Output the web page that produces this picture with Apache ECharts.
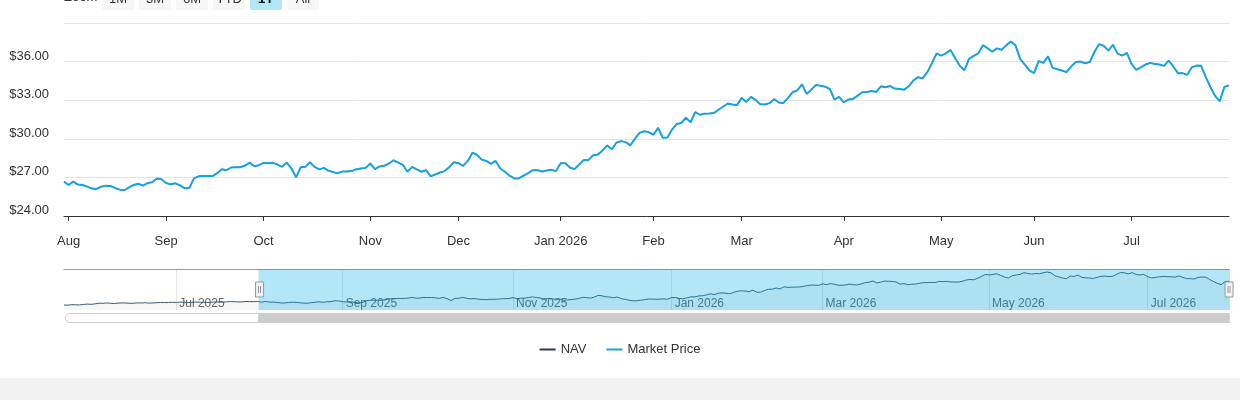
<!DOCTYPE html>
<html>
<head>
<meta charset="utf-8">
<script src="https://cdn.jsdelivr.net/npm/echarts@6/dist/echarts.min.js"></script>
<style>
  body { margin: 0; background: #f2f2f2; }
  #main { width: 1240px; height: 378px; background: #fff; }
</style>
</head>
<body>
<div id="main"></div>
<script>
// trading calendar: weekdays between these dates, minus market holidays
const firstDay = "2025-05-19";
const lastDay = "2026-07-31";
const holidays = [
  "2025-05-26", "2025-06-19", "2025-07-04", "2025-09-01", "2025-11-27",
  "2025-12-25", "2026-01-01", "2026-01-19", "2026-02-16", "2026-04-03",
  "2026-05-25", "2026-06-19", "2026-07-03"
];
const monthNames = ["Jan", "Feb", "Mar", "Apr", "May", "Jun", "Jul", "Aug", "Sep", "Oct", "Nov", "Dec"];
const zoomButtons = ["1M", "3M", "6M", "YTD", "1Y", "All"];
const selectedButton = "1Y";
const zoomFrom = "2025-07-31";

// market price (NAV sits right under it)
const priceMay25Jul25 = [
  25.35, 25.30, 25.45, 25.42, 25.38, 25.55, 25.68, 25.62, 25.75,
  26.02, 25.96, 26.10, 25.98, 25.90, 26.05, 26.12, 26.08, 25.98, 26.00,
  26.15, 26.10, 26.18, 26.05, 26.12, 26.20, 26.28, 26.22, 26.30, 26.35,
  26.30, 26.42, 26.38, 26.25, 26.30, 26.44, 26.40, 26.32, 26.28, 26.35, 26.50,
  26.46, 26.40, 26.55, 26.62, 26.58, 26.48, 26.52, 26.66, 26.60, 26.58, 26.67
];
const priceAug25Oct25 = [
  26.41, 26.67, 26.44, 26.41, 26.28, 26.13, 26.10, 26.28, 26.36, 26.33, 26.18,
  26.05, 26.00, 26.23, 26.41, 26.51, 26.36, 26.56, 26.62, 26.92, 26.85,
  26.56, 26.46, 26.54, 26.38, 26.15, 26.18, 26.92, 27.08, 27.10, 27.10, 27.10,
  27.33, 27.64, 27.56, 27.77, 27.79, 27.79, 27.92, 28.15, 27.87, 27.95,
  28.13, 28.10, 28.13, 28.00, 27.82, 28.15, 27.69, 27.00, 27.79, 27.82, 28.18,
  27.82, 27.62, 27.74, 27.51, 27.41, 27.33, 27.46, 27.46, 27.49, 27.64, 27.69, 27.74
];
const priceNov25Jan26 = [
  28.08, 27.64, 27.85, 27.90, 28.08, 28.33, 28.15, 27.97, 27.44, 27.82,
  27.62, 27.44, 27.56, 27.08, 27.23, 27.38, 27.49, 27.79, 28.18,
  28.10, 27.90, 28.28, 28.92, 28.74, 28.38, 28.28, 28.05, 28.28, 27.69, 27.44,
  27.13, 26.92, 26.92, 27.13, 27.33, 27.56, 27.56, 27.46, 27.54, 27.59, 27.49,
  28.10, 28.10, 27.77, 27.64, 28.00, 28.36, 28.36, 28.72, 28.77, 29.08,
  29.49, 29.18, 29.69, 29.82, 29.74, 29.49, 30.00, 30.46, 30.59, 30.52
];
const priceFeb26Apr26 = [
  30.31, 30.85, 30.08, 30.10, 30.72, 31.15, 31.23, 31.64, 31.28, 32.08,
  31.87, 31.95, 31.97, 32.00, 32.26, 32.49, 32.74, 32.67, 32.62,
  33.18, 32.87, 33.26, 33.03, 32.69, 32.67, 32.77, 33.08, 32.82, 32.79, 33.18,
  33.62, 33.77, 34.23, 33.49, 33.82, 34.18, 34.13, 34.05, 33.87, 33.05, 33.26,
  32.84, 33.05, 33.10, 33.36, 33.62, 33.64, 33.72, 33.64, 34.08, 34.00, 34.10,
  33.90, 33.87, 33.82, 34.08, 34.54, 34.79, 34.69, 35.18, 35.87, 36.64
];
const priceMay26Jul26 = [
  36.46, 36.64, 36.90, 36.26, 35.67, 35.33, 36.21, 36.44, 36.64, 37.28,
  37.03, 36.77, 37.03, 36.92, 37.26, 37.56, 37.26, 36.21, 35.77, 35.31,
  35.10, 36.05, 35.90, 36.41, 35.51, 35.41, 35.31, 35.18, 35.62, 35.97, 36.00,
  35.87, 35.97, 36.74, 37.36, 37.23, 36.85, 37.31, 36.62, 36.46, 36.67,
  35.82, 35.36, 35.56, 35.77, 35.90, 35.82, 35.77, 35.67, 36.08, 35.62, 35.10,
  35.10, 34.97, 35.56, 35.69, 35.67, 34.79, 34.03, 33.33, 32.92, 34.03, 34.15
];

const navColor = "#2b3b4b";
const priceColor = "#18a3e0";
const fontFamily = "'Liberation Sans', Arial, sans-serif";

const tradingDays = () => {
  const out = [];
  const d = new Date(firstDay + "T00:00:00Z");
  const end = new Date(lastDay + "T00:00:00Z");
  while (d <= end) {
    const s = d.toISOString().slice(0, 10);
    const wd = d.getUTCDay();
    if (wd !== 0 && wd !== 6 && holidays.indexOf(s) < 0) out.push(s);
    d.setUTCDate(d.getUTCDate() + 1);
  }
  return out;
};

const dates = tradingDays();
const marketPrice = [].concat(priceMay25Jul25, priceAug25Oct25, priceNov25Jan26, priceFeb26Apr26, priceMay26Jul26);
const navPrice = marketPrice; // hidden beneath market price in the picture

const isMonthStart = (idx) => idx > 0 && dates[idx].slice(5, 7) !== dates[idx - 1].slice(5, 7);
const isNavMark = (idx) => isMonthStart(idx) && Number(dates[idx].slice(5, 7)) % 2 === 1;

const myChart = echarts.init(document.getElementById("main"));

// range selector buttons, cut off at the top like the original
const selector = [
  { type: "text", left: 64, top: -9, style: { text: "Zoom", font: "13px " + fontFamily, fill: "#333" } }
];
zoomButtons.forEach((b, k) => {
  const on = b === selectedButton;
  selector.push({
    type: "rect", shape: { x: 102 + 37 * k, y: -12, width: 32, height: 22, r: 2 },
    style: { fill: on ? "#b3e6f7" : "#f7f7f7" }
  });
  selector.push({
    type: "text", x: 118 + 37 * k, y: -1,
    style: {
      text: b, align: "center", verticalAlign: "middle",
      font: (on ? "bold " : "") + "13px " + fontFamily, fill: on ? "#000" : "#333"
    }
  });
});

const startIdx = dates.indexOf(zoomFrom);
const endIdx = dates.length - 1;

const option = {
  animation: false,
  textStyle: { fontFamily: fontFamily },
  graphic: selector,
  legend: {
    top: 338,
    left: "center",
    data: ["NAV", "Market Price"],
    icon: "rect",
    itemWidth: 16,
    itemHeight: 2,
    itemGap: 20,
    textStyle: { color: "#333", fontSize: 13 }
  },
  grid: [
    { left: 64, right: 11, top: 23, height: 193 },
    { left: 64, right: 11, top: 269, height: 41 }
  ],
  xAxis: [
    {
      gridIndex: 0,
      type: "category",
      data: dates,
      boundaryGap: false,
      axisLine: { lineStyle: { color: "#333" } },
      axisTick: { interval: isMonthStart, length: 5, lineStyle: { color: "#333" } },
      axisLabel: {
        interval: isMonthStart,
        color: "#333",
        fontSize: 13,
        margin: 19,
        formatter: (v) => {
          const m = Number(v.slice(5, 7));
          return m === 1 ? monthNames[0] + " " + v.slice(0, 4) : monthNames[m - 1];
        }
      },
      splitLine: { show: false }
    },
    {
      gridIndex: 1,
      type: "category",
      data: dates,
      boundaryGap: false,
      axisLine: { show: false },
      axisTick: { show: false },
      axisLabel: {
        interval: isNavMark,
        inside: true,
        align: "left",
        margin: 0,
        padding: [0, 0, 0, 3],
        color: "#666",
        fontSize: 12,
        formatter: (v) => monthNames[Number(v.slice(5, 7)) - 1] + " " + v.slice(0, 4)
      },
      splitLine: { show: true, interval: isNavMark, lineStyle: { color: "#e6e6e6" } }
    },
    {
      gridIndex: 1,
      type: "category",
      data: dates,
      position: "top",
      boundaryGap: false,
      axisLine: { lineStyle: { color: "#999" } },
      axisTick: { show: false },
      axisLabel: { show: false }
    }
  ],
  yAxis: [
    {
      gridIndex: 0,
      type: "value",
      min: 24,
      max: 39,
      interval: 3,
      axisLabel: {
        color: "#333",
        fontSize: 13,
        margin: 15,
        verticalAlign: "bottom",
        lineHeight: 11,
        formatter: (v) => (v === 39 ? "" : "$" + v.toFixed(2))
      },
      splitLine: { lineStyle: { color: "#e6e6e6" } }
    },
    {
      gridIndex: 1,
      type: "value",
      show: false,
      min: (v) => v.min - 1.8,
      max: (v) => v.max + 1.1
    }
  ],
  dataZoom: [
    {
      type: "slider",
      xAxisIndex: 0,
      startValue: startIdx,
      endValue: endIdx,
      left: 64,
      right: 11,
      top: 269,
      height: 41,
      z: 10,
      backgroundColor: "rgba(0,0,0,0)",
      borderColor: "rgba(0,0,0,0)",
      fillerColor: "rgba(2,172,228,0.3)",
      showDataShadow: false,
      showDetail: false,
      brushSelect: false,
      moveHandleSize: 0,
      handleIcon: "path://M0,0H8V15H0Z M3,4V11 M5,4V11",
      handleSize: 15,
      handleStyle: { color: "#f2f2f2", borderColor: "#999", borderWidth: 1 }
    },
    {
      type: "slider",
      xAxisIndex: 0,
      startValue: startIdx,
      endValue: endIdx,
      left: 64,
      right: 11,
      top: 313,
      height: 10,
      z: 10,
      backgroundColor: "#fff",
      borderColor: "#ccc",
      borderRadius: 5,
      fillerColor: "#cccccc",
      showDataShadow: false,
      showDetail: false,
      brushSelect: false,
      moveHandleSize: 0,
      handleSize: 0,
      handleStyle: { opacity: 0 }
    }
  ],
  series: [
    {
      name: "NAV",
      type: "line",
      xAxisIndex: 0,
      yAxisIndex: 0,
      data: navPrice,
      symbol: "none",
      color: navColor,
      lineStyle: { width: 1, color: navColor }
    },
    {
      name: "Market Price",
      type: "line",
      xAxisIndex: 0,
      yAxisIndex: 0,
      data: marketPrice,
      symbol: "none",
      color: priceColor,
      lineStyle: { width: 2, color: priceColor }
    },
    {
      name: "Navigator",
      type: "line",
      xAxisIndex: 1,
      yAxisIndex: 1,
      data: navPrice,
      symbol: "none",
      silent: true,
      lineStyle: { width: 1, color: "#3b5a72" },
      areaStyle: { color: "rgba(47,62,75,0.06)" }
    }
  ]
};

myChart.setOption(option);
</script>
</body>
</html>
